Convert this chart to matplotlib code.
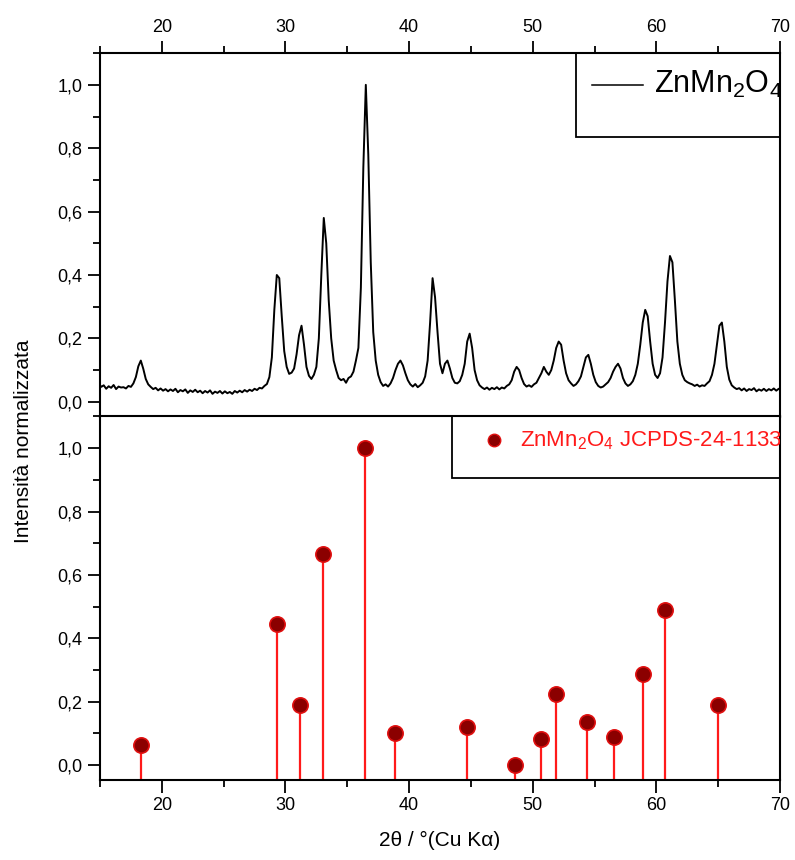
import numpy as np
import matplotlib
matplotlib.use("Agg")
import matplotlib.pyplot as plt
from matplotlib.patches import Rectangle
from matplotlib.lines import Line2D
from matplotlib.ticker import MultipleLocator, FuncFormatter

plt.rcParams["font.family"] = ["Liberation Sans", "DejaVu Sans"]
plt.rcParams["mathtext.fontset"] = "custom"
plt.rcParams["mathtext.rm"] = "Liberation Sans"
plt.rcParams["mathtext.it"] = "Liberation Sans:italic"

# ---------------------------------------------------------------------------
# Measured pattern (normalised), 2theta scan 14.9 -> 70.1 deg, step 0.2
# ---------------------------------------------------------------------------
scan_start, scan_step = 14.9, 0.2
intensity = [
    # 14.9 - 16.7
    0.058, 0.047, 0.052, 0.041, 0.049, 0.044, 0.053, 0.040, 0.048, 0.045,
    # 16.9 - 18.7
    0.046, 0.042, 0.050, 0.047, 0.058, 0.078, 0.112, 0.130, 0.104, 0.072,
    # 18.9 - 20.7
    0.055, 0.047, 0.040, 0.044, 0.036, 0.042, 0.035, 0.040, 0.033, 0.039,
    # 20.9 - 22.7
    0.034, 0.041, 0.030, 0.037, 0.033, 0.039, 0.028, 0.036, 0.031, 0.038,
    # 22.9 - 24.7
    0.030, 0.035, 0.027, 0.034, 0.029, 0.036, 0.025, 0.032, 0.028, 0.034,
    # 24.9 - 26.7
    0.026, 0.033, 0.027, 0.031, 0.025, 0.034, 0.029, 0.035, 0.030, 0.037,
    # 26.9 - 28.7
    0.032, 0.038, 0.034, 0.041, 0.037, 0.044, 0.042, 0.050, 0.056, 0.078,
    # 28.9 - 30.7
    0.140, 0.290, 0.400, 0.390, 0.270, 0.160, 0.110, 0.088, 0.092, 0.105,
    # 30.9 - 32.7
    0.150, 0.210, 0.240, 0.180, 0.110, 0.082, 0.072, 0.085, 0.110, 0.200,
    # 32.9 - 34.7
    0.400, 0.580, 0.500, 0.320, 0.200, 0.130, 0.100, 0.075, 0.068, 0.072,
    # 34.9 - 36.7
    0.060, 0.075, 0.080, 0.095, 0.130, 0.170, 0.360, 0.740, 1.000, 0.780,
    # 36.9 - 38.7
    0.440, 0.220, 0.130, 0.085, 0.062, 0.050, 0.055, 0.048, 0.058, 0.075,
    # 38.9 - 40.7
    0.100, 0.120, 0.130, 0.115, 0.090, 0.068, 0.055, 0.048, 0.056, 0.046,
    # 40.9 - 42.7
    0.052, 0.060, 0.080, 0.130, 0.250, 0.390, 0.330, 0.220, 0.120, 0.090,
    # 42.9 - 44.7
    0.120, 0.130, 0.105, 0.075, 0.060, 0.058, 0.065, 0.085, 0.120, 0.190,
    # 44.9 - 46.7
    0.215, 0.170, 0.100, 0.068, 0.052, 0.045, 0.040, 0.045, 0.038, 0.044,
    # 46.9 - 48.7
    0.040, 0.046, 0.039, 0.045, 0.042, 0.050, 0.055, 0.068, 0.095, 0.110,
    # 48.9 - 50.7
    0.100, 0.075, 0.056, 0.048, 0.052, 0.047, 0.055, 0.060, 0.075, 0.090,
    # 50.9 - 52.7
    0.110, 0.095, 0.085, 0.100, 0.130, 0.170, 0.190, 0.180, 0.130, 0.090,
    # 52.9 - 54.7
    0.068, 0.058, 0.050, 0.055, 0.065, 0.080, 0.110, 0.140, 0.148, 0.120,
    # 54.9 - 56.7
    0.085, 0.062, 0.050, 0.045, 0.048, 0.055, 0.062, 0.075, 0.095, 0.110,
    # 56.9 - 58.7
    0.120, 0.105, 0.075, 0.058, 0.050, 0.055, 0.065, 0.085, 0.120, 0.180,
    # 58.9 - 60.7
    0.250, 0.290, 0.270, 0.190, 0.120, 0.085, 0.075, 0.090, 0.140, 0.250,
    # 60.9 - 62.7
    0.380, 0.460, 0.440, 0.320, 0.190, 0.120, 0.085, 0.068, 0.062, 0.058,
    # 62.9 - 64.7
    0.055, 0.050, 0.054, 0.048, 0.052, 0.050, 0.058, 0.065, 0.085, 0.120,
    # 64.9 - 66.7
    0.180, 0.240, 0.250, 0.190, 0.110, 0.070, 0.052, 0.045, 0.040, 0.043,
    # 66.9 - 68.7
    0.036, 0.042, 0.034, 0.040, 0.037, 0.043, 0.033, 0.039, 0.035, 0.041,
    # 68.9 - 70.1
    0.034, 0.040, 0.036, 0.042, 0.035, 0.041, 0.038,
]
two_theta = scan_start + scan_step * np.arange(len(intensity))

# Reference card JCPDS 24-1133
ref_pos = [18.3, 29.3, 31.2, 33.0, 36.4, 38.9, 44.7, 48.6, 50.7, 51.9,
           54.4, 56.6, 58.9, 60.7, 65.0]
ref_int = [0.063, 0.445, 0.19, 0.666, 1.0, 0.10, 0.12, 0.0, 0.082, 0.224,
           0.136, 0.09, 0.287, 0.49, 0.19]

sample_label = r"ZnMn$_2$O$_4$"
ref_label = r"ZnMn$_2$O$_4$ JCPDS-24-1133"

XLIM = (15, 70)
YLIM = (-0.047, 1.10)

comma = FuncFormatter(lambda v, p: f"{v:.1f}".replace(".", ","))


def style_axis(ax, top_labels):
    ax.set_xlim(*XLIM)
    ax.set_ylim(*YLIM)
    for sp in ax.spines.values():
        sp.set_linewidth(1.5)
    ax.xaxis.set_major_locator(MultipleLocator(10))
    ax.xaxis.set_minor_locator(MultipleLocator(5))
    ax.yaxis.set_major_locator(MultipleLocator(0.2))
    ax.yaxis.set_minor_locator(MultipleLocator(0.1))
    ax.yaxis.set_major_formatter(comma)
    ax.tick_params(which="both", direction="out", width=1.3, labelsize=13)
    ax.tick_params(which="major", length=9)
    ax.tick_params(which="minor", length=5)
    ax.tick_params(axis="y", left=True, right=False)
    if top_labels:
        ax.tick_params(axis="x", which="both", top=True, bottom=False,
                       labeltop=True, labelbottom=False)
    else:
        ax.tick_params(axis="x", which="both", top=False, bottom=True,
                       labeltop=False, labelbottom=True)


fig = plt.figure(figsize=(7.95, 8.6), dpi=100)
ax_top = fig.add_axes([0.1258, 0.5155, 0.8553, 0.4227])
ax_bot = fig.add_axes([0.1258, 0.0930, 0.8553, 0.4227])

# ---- measured pattern ----
ax_top.plot(two_theta, intensity, color="black", lw=1.4)
style_axis(ax_top, top_labels=True)

# legend box (clipped at the right spine, as in the original)
ax_top.add_patch(Rectangle((0.70, 0.77), 0.32, 0.25, transform=ax_top.transAxes,
                           fill=False, lw=1.3, ec="black", clip_on=True))
ax_top.add_line(Line2D([0.723, 0.799], [0.913, 0.913], transform=ax_top.transAxes,
                       color="black", lw=1.1))
ax_top.text(0.814, 0.913, sample_label, transform=ax_top.transAxes,
            fontsize=22, va="center", ha="left", clip_on=True)

# ---- reference stems ----
markers, stems, base = ax_bot.stem(ref_pos, ref_int, bottom=YLIM[0], basefmt=" ")
plt.setp(stems, color="#ff1a1a", lw=1.6)
plt.setp(markers, marker="o", markersize=11, markerfacecolor="#8b0000",
         markeredgecolor="#e01010", markeredgewidth=1.2, zorder=3)
style_axis(ax_bot, top_labels=False)

ax_bot.add_patch(Rectangle((0.518, 0.83), 0.5, 0.2, transform=ax_bot.transAxes,
                           fill=False, lw=1.3, ec="black", clip_on=True))
ax_bot.plot([0.579], [0.934], transform=ax_bot.transAxes, marker="o",
            markersize=9, markerfacecolor="#8b0000", markeredgecolor="#e01010",
            markeredgewidth=1.0, clip_on=False)
ax_bot.text(0.618, 0.934, ref_label, transform=ax_bot.transAxes, color="#ff1a1a",
            fontsize=16, va="center", ha="left", clip_on=True)

ax_bot.set_xlabel("2θ / °(Cu Kα)", fontsize=15, labelpad=12)
fig.text(0.030, 1 - 441 / 860, "Intensità normalizzata", rotation=90,
         fontsize=15, ha="center", va="center")

fig.savefig("out.png", dpi=100)
